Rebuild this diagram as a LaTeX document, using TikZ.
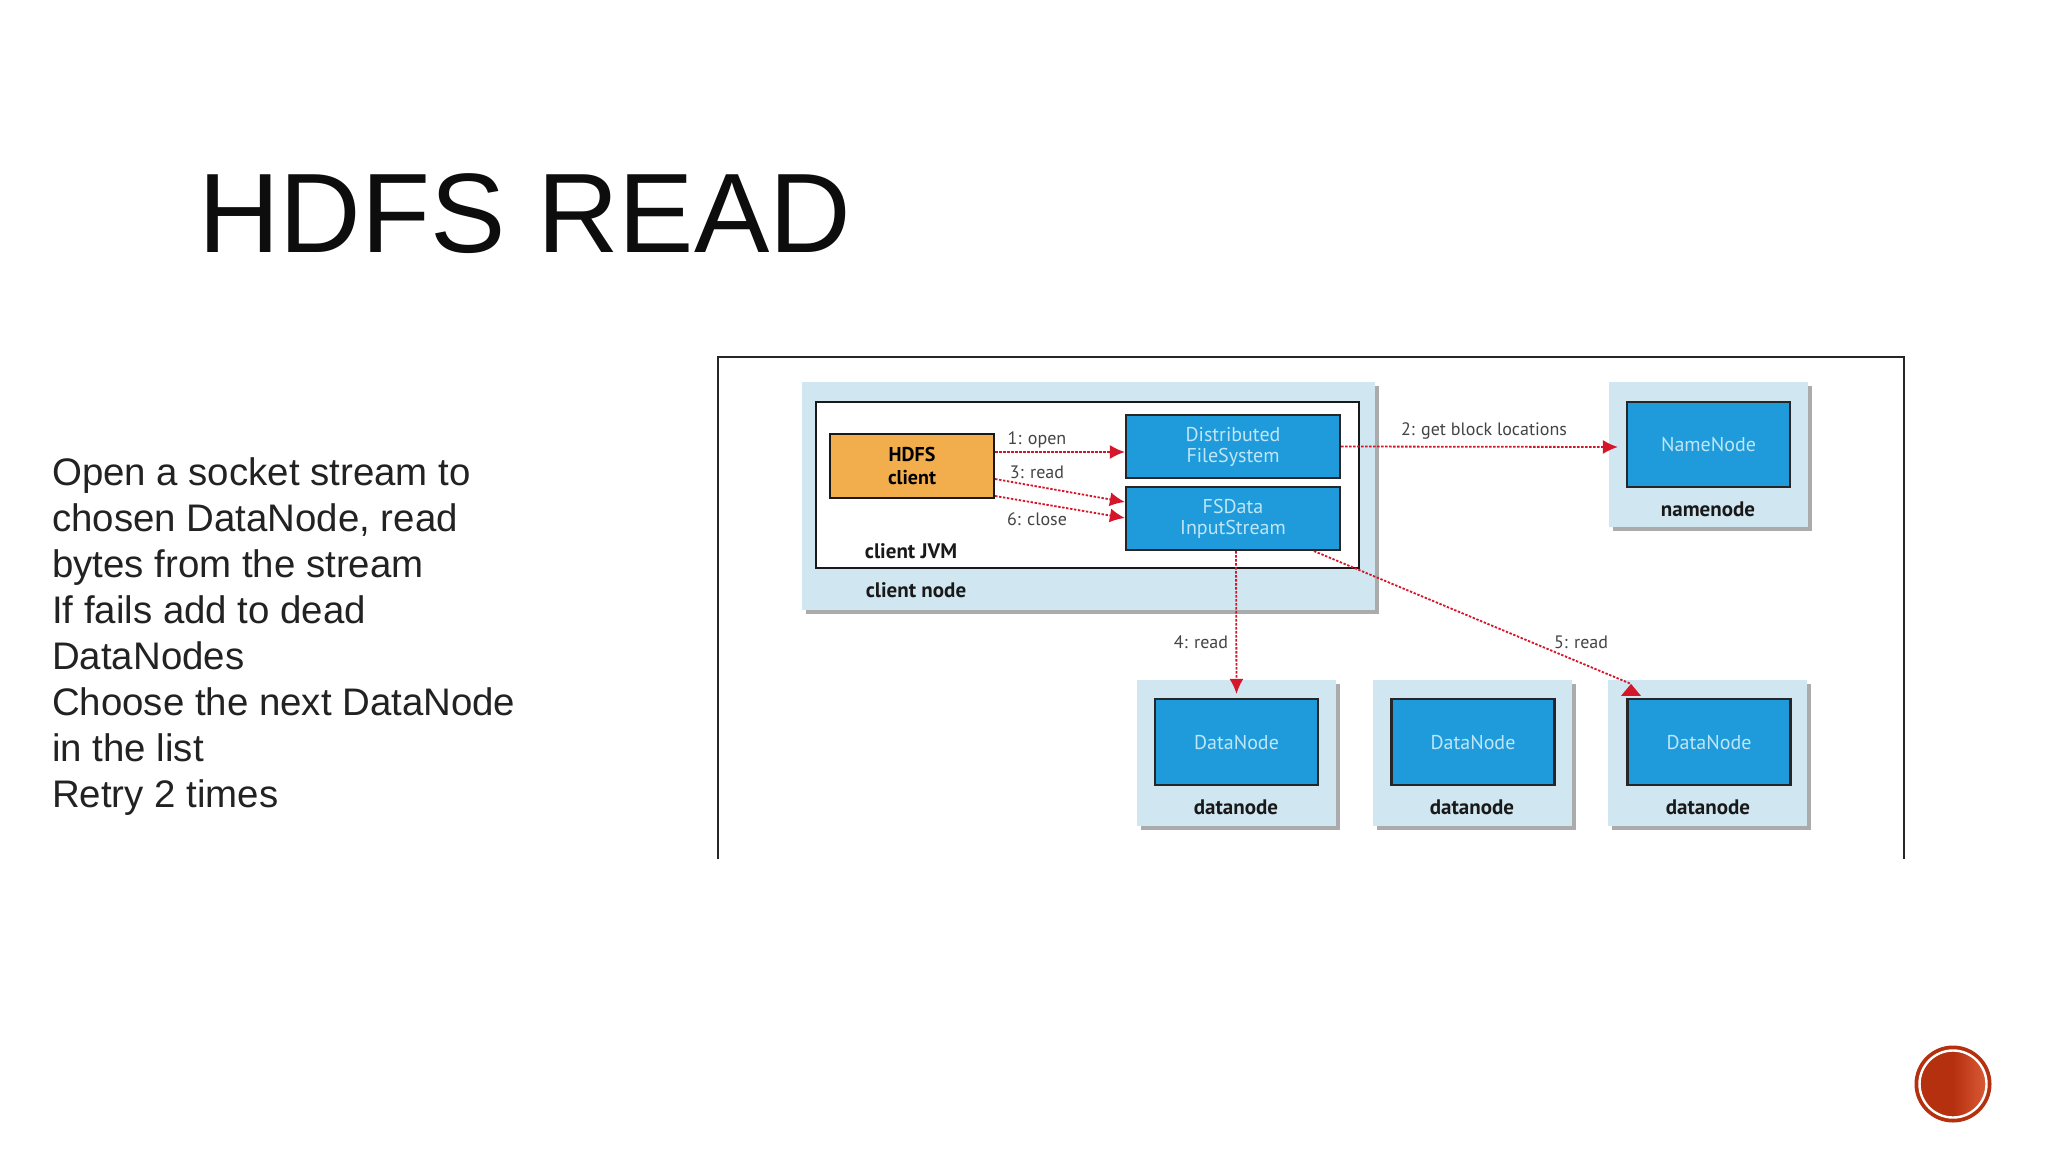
\documentclass[tikz,border=0pt]{standalone}
\usepackage{fontspec}
\setmainfont{Liberation Sans}
\newfontfamily\diagfont{PT Sans}
\usetikzlibrary{arrows.meta,shadows}
\definecolor{paleblue}{HTML}{D0E6F1}
\definecolor{procblue}{HTML}{1F9BDB}
\definecolor{proctext}{HTML}{BFE6F6}
\definecolor{clientorange}{HTML}{F2AE4C}
\definecolor{flowred}{HTML}{D5152A}
\definecolor{inkgrey}{HTML}{444444}
\definecolor{bodyink}{HTML}{222222}
\definecolor{badge}{HTML}{B5300E}
\definecolor{badgelight}{HTML}{DA5A36}
\tikzset{
  hostbox/.style={fill=paleblue,draw=none,inner sep=0pt,
    drop shadow={shadow xshift=4pt,shadow yshift=-4pt,fill=black!55,opacity=.6}},
  jvmbox/.style={fill=white,draw=black!90,line width=2.2pt,inner sep=0pt},
  procbox/.style={fill=procblue,draw=black!85,line width=2.2pt,inner sep=0pt,align=center,
    text=proctext,font=\diagfont\fontsize{20}{21}\selectfont},
  clientbox/.style={fill=clientorange,draw=black!90,line width=2.2pt,inner sep=0pt,align=center,
    font=\diagfont\bfseries\fontsize{20}{22.5}\selectfont},
  hostlabel/.style={font=\diagfont\bfseries\fontsize{21}{24}\selectfont,text=black!90,inner sep=0pt},
  flowlabel/.style={font=\diagfont\fontsize{18}{20}\selectfont,text=inkgrey,inner sep=0pt},
  flow/.style={draw=flowred,line width=1.8pt,dash pattern=on 2.4pt off 1.6pt,
    -{Latex[length=15pt,width=14pt,flowred,sep=0pt]}},
  flowplain/.style={draw=flowred,line width=1.8pt,dash pattern=on 2.4pt off 1.6pt},
}
\begin{document}
\begin{tikzpicture}[x=1pt,y=-1pt]
\useasboundingbox (0,0) rectangle (2048,1152);
\fill[white] (0,0) rectangle (2048,1152);

\node[anchor=base west,inner sep=0pt,text=black!95,font=\fontsize{113}{113}\selectfont] (title) at (198,252) {HDFS READ};

\node[anchor=north west,inner sep=0pt,align=left,text=bodyink,font=\fontsize{38.4}{46.08}\selectfont] (body) at (52,457)
{Open a socket stream to\\chosen DataNode, read\\bytes from the stream\\If fails add to dead\\DataNodes\\Choose the next DataNode\\in the list\\Retry 2 times};

% picture frame, open at the bottom
\coordinate (frameBL) at (718,859);
\coordinate (frameTL) at (718,357);
\coordinate (frameTR) at (1904,357);
\coordinate (frameBR) at (1904,859);
\draw[draw=black!85,line width=2pt] (frameBL) -- (frameTL) -- (frameTR) -- (frameBR);

% client node
\node[hostbox,minimum width=573pt,minimum height=228pt] (clientnode) at (1088.5,496) {};
\node[jvmbox,minimum width=543pt,minimum height=166pt] (jvm) at (1087.5,485) {};
\node[clientbox,minimum width=164pt,minimum height=64pt] (hdfs) at (912,466) {HDFS\\client};
\node[procbox,minimum width=214pt,minimum height=63pt] (dfs) at (1233,446.5) {Distributed\\FileSystem};
\node[procbox,minimum width=214pt,minimum height=63pt] (fsdata) at (1233,518.5) {FSData\\InputStream};
\node[hostlabel] (jvmlabel) at (911,551) {client JVM};
\node[hostlabel] (clientlabel) at (916,590) {client node};

% namenode
\node[hostbox,minimum width=199pt,minimum height=145pt] (nnhost) at (1708.5,454.5) {};
\node[procbox,minimum width=163pt,minimum height=85pt] (nn) at (1708.5,444.5) {NameNode};
\node[hostlabel] (nnlabel) at (1708,509) {namenode};

% datanodes
\node[hostbox,minimum width=199pt,minimum height=146pt] (dnhostA) at (1236.5,753) {};
\node[procbox,minimum width=163pt,minimum height=86pt] (dnA) at (1236.5,742) {DataNode};
\node[hostlabel] (dnlabelA) at (1236,807) {datanode};
\node[hostbox,minimum width=199pt,minimum height=146pt] (dnhostB) at (1472.5,753) {};
\node[procbox,minimum width=163pt,minimum height=86pt] (dnB) at (1473,742) {DataNode};
\node[hostlabel] (dnlabelB) at (1472,807) {datanode};
\node[hostbox,minimum width=199pt,minimum height=146pt] (dnhostC) at (1707.5,753) {};
\node[procbox,minimum width=163pt,minimum height=86pt] (dnC) at (1709,742) {DataNode};
\node[hostlabel] (dnlabelC) at (1708,807) {datanode};

% connectors
\draw[flow] ([yshift=14pt]hdfs.east) -- ([yshift=-5.5pt]dfs.west);
\draw[flow] ([yshift=-13pt]hdfs.east) -- ([yshift=16.5pt]fsdata.west);
\draw[flow] ([yshift=-30pt]hdfs.east) -- ([yshift=.5pt]fsdata.west);
\draw[flow] (dfs.east) -- ([xshift=-8pt,yshift=-2.5pt]nn.west);
\draw[flow] ([xshift=3pt]fsdata.south) -- ([yshift=4pt]dnA.north);
\coordinate (fiveTip) at ([xshift=-78pt,yshift=14pt]dnC.north);
\draw[flowplain] ([xshift=81pt]fsdata.south) -- (fiveTip);
\fill[flowred] (fiveTip) -- ++(-10,12) -- ++(20,0) -- cycle;

\node[flowlabel] (l1) at (1037,440) {1: open};
\node[flowlabel] (l3) at (1037,472) {3: read};
\node[flowlabel] (l6) at (1037,519) {6: close};
\node[flowlabel] (l2) at (1484,431) {2: get block locations};
\node[flowlabel] (l4) at (1201,642) {4: read};
\node[flowlabel] (l5) at (1581,642) {5: read};

% badge
\fill[badge] (1953,1084) circle (38.5);
\shade[left color=badge,right color=badgelight,middle color=badge] (1953,1084) circle (33);
\draw[white,line width=2.4pt] (1953,1084) circle (33.5);
\end{tikzpicture}
\end{document}
